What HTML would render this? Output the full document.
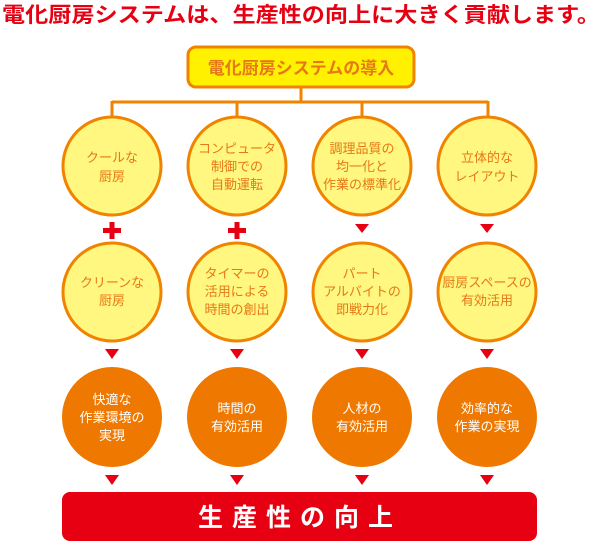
<!DOCTYPE html>
<html><head><meta charset="utf-8"><style>
html,body{margin:0;padding:0;background:#fff;width:603px;height:543px;overflow:hidden}
text{font-family:"Liberation Sans","Noto Sans CJK JP",sans-serif}
</style></head><body>
<svg width="603" height="543" viewBox="0 0 603 543" xmlns="http://www.w3.org/2000/svg">
<text x="2" y="22" font-size="21" font-weight="bold" fill="#e60012" textLength="598" lengthAdjust="spacingAndGlyphs">電化厨房システムは、生産性の向上に大きく貢献します。</text>
<rect x="188" y="47" width="226" height="40" rx="8" fill="#fff100" stroke="#f08300" stroke-width="3"/>
<text x="301" y="74" font-size="17" font-weight="bold" fill="#e67817" text-anchor="middle">電化厨房システムの導入</text>
<g stroke="#f08300" stroke-width="3" fill="none">
<path d="M301 87V102M112 102H488M112 101V118M237 101V118M362 101V118M488 101V118"/>
</g>
<g fill="#fff780" stroke="#f08300" stroke-width="3">
<ellipse cx="112" cy="166" rx="49" ry="49"/>
<ellipse cx="237" cy="166" rx="49" ry="49"/>
<ellipse cx="362" cy="166" rx="49" ry="49"/>
<ellipse cx="487" cy="166" rx="49" ry="49"/>
<circle cx="112" cy="292" r="49"/>
<circle cx="237" cy="292" r="49"/>
<circle cx="362" cy="292" r="49"/>
<circle cx="487" cy="292" r="49"/>
</g>
<g fill="#ee7800">
<circle cx="112" cy="417" r="50"/>
<circle cx="237" cy="417" r="50"/>
<circle cx="362" cy="417" r="50"/>
<circle cx="487" cy="417" r="50"/>
</g>
<g fill="#e60012">
<rect x="103" y="228" width="18" height="5"/><rect x="109.5" y="222" width="5" height="17"/>
<rect x="228" y="228" width="18" height="5"/><rect x="234.5" y="222" width="5" height="17"/>
<path d="M355 224h14l-7 9z M480 224h14l-7 9z"/>
<path d="M105 349h14l-7 10z M230 349h14l-7 10z M355 349h14l-7 10z M480 349h14l-7 10z"/>
<path d="M105 475h14l-7 10z M230 475h14l-7 10z M355 475h14l-7 10z M480 475h14l-7 10z"/>
<rect x="62" y="492" width="475" height="49" rx="8"/>
</g>
<g font-size="13" fill="#e67817" text-anchor="middle">
<text x="112" y="162">クールな</text><text x="112" y="181">厨房</text>
<text x="237" y="153">コンピュータ</text><text x="237" y="171">制御での</text><text x="237" y="189">自動運転</text>
<text x="362" y="153">調理品質の</text><text x="362" y="171">均一化と</text><text x="362" y="189">作業の標準化</text>
<text x="487" y="162">立体的な</text><text x="487" y="181">レイアウト</text>
<text x="112" y="287">クリーンな</text><text x="112" y="305">厨房</text>
<text x="237" y="278">タイマーの</text><text x="237" y="296">活用による</text><text x="237" y="314">時間の創出</text>
<text x="362" y="278">パート</text><text x="362" y="296">アルバイトの</text><text x="362" y="314">即戦力化</text>
<text x="487" y="287">厨房スペースの</text><text x="487" y="305">有効活用</text>
</g>
<g font-size="13" fill="#fff" text-anchor="middle">
<text x="112" y="404">快適な</text><text x="112" y="422">作業環境の</text><text x="112" y="440">実現</text>
<text x="237" y="413">時間の</text><text x="237" y="431">有効活用</text>
<text x="362" y="413">人材の</text><text x="362" y="431">有効活用</text>
<text x="487" y="413">効率的な</text><text x="487" y="431">作業の実現</text>
</g>
<text x="300" y="526" font-size="25" font-weight="bold" fill="#fff" text-anchor="middle" letter-spacing="9">生産性の向上</text>
</svg>
</body></html>
